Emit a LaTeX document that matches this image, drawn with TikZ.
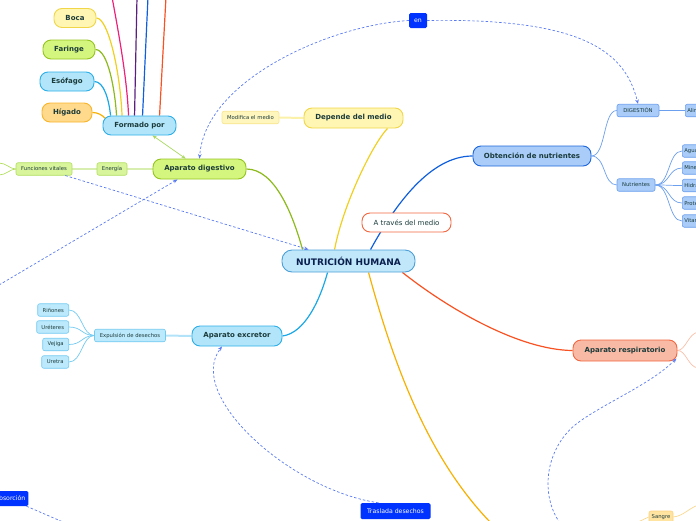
\documentclass[tikz,border=0pt]{standalone}
\usepackage{fontspec}
\setmainfont{DejaVu Sans}
\usetikzlibrary{arrows.meta}
\definecolor{txt}{HTML}{1B3B3B}
\definecolor{navy}{HTML}{0B1F4F}
\definecolor{gfill}{HTML}{D4F57E}
\definecolor{gline}{HTML}{96C41E}
\definecolor{gsfill}{HTML}{D8F59C}
\definecolor{gsline}{HTML}{B2DE5E}
\definecolor{gpale}{HTML}{D8EDB0}
\definecolor{yfill}{HTML}{FFF6B3}
\definecolor{yline}{HTML}{F0D648}
\definecolor{ysfill}{HTML}{FFF6BE}
\definecolor{ysline}{HTML}{F7E58E}
\definecolor{ypale}{HTML}{FBF1A8}
\definecolor{bfill}{HTML}{B3E5FA}
\definecolor{bline}{HTML}{2CAEE8}
\definecolor{bsfill}{HTML}{BDE9FC}
\definecolor{bsline}{HTML}{72CAF2}
\definecolor{bpale}{HTML}{B3E3F8}
\definecolor{dfill}{HTML}{A9CCF8}
\definecolor{dline}{HTML}{1C66DC}
\definecolor{dsline}{HTML}{6C9FEE}
\definecolor{rfill}{HTML}{F8BAA4}
\definecolor{rline}{HTML}{F26640}
\definecolor{rpale}{HTML}{F9BFA8}
\definecolor{ofill}{HTML}{FFD98C}
\definecolor{oline}{HTML}{F8B52C}
\definecolor{osfill}{HTML}{FFE3A0}
\definecolor{opale}{HTML}{F8D890}
\definecolor{cfill}{HTML}{C0E8FA}
\definecolor{cline}{HTML}{4C9FD6}
\definecolor{relblue}{HTML}{0033FF}
\definecolor{dashc}{HTML}{5A7BF2}
\definecolor{cgreen}{HTML}{8BBA1A}
\definecolor{cyellow}{HTML}{F0CF1E}
\definecolor{cblue}{HTML}{0F5FDD}
\definecolor{cred}{HTML}{F85222}
\definecolor{clblue}{HTML}{19A7E6}
\definecolor{corange}{HTML}{F8B000}
\definecolor{cpink}{HTML}{F0207A}
\definecolor{cpurple}{HTML}{5A1F7F}
\definecolor{cgreenl}{HTML}{A8D860}
\pgfdeclarelayer{bg}
\pgfsetlayers{bg,main}
\begin{document}
\begin{tikzpicture}[x=1pt,y=-1pt,
  lvone/.style={rounded corners=8pt, line width=0.9pt, minimum height=19pt, inner xsep=2pt, inner ysep=0pt, font=\bfseries\fontsize{7}{8}\selectfont, text=txt},
  smallbox/.style={rounded corners=2pt, line width=0.6pt, minimum height=12.5pt, inner xsep=2pt, inner ysep=0pt, font=\fontsize{5.3}{6}\selectfont, text=txt},
  relbox/.style={fill=relblue, rounded corners=1.5pt, text=white, font=\fontsize{6.2}{7}\selectfont, minimum height=15pt, inner xsep=3pt, inner ysep=0pt},
  dashrel/.style={draw=dashc, line width=0.7pt, dash pattern=on 2.5pt off 2pt},
  arrowend/.style={-{Stealth[length=4.5pt,width=3.6pt]}},
  mainconn/.style={line width=1.2pt},
  subconn/.style={line width=0.7pt},
  thickconn/.style={line width=2pt}
]
\useasboundingbox (0,0) rectangle (696,520);
\clip (0,0) rectangle (696,520);

% ---------- nodes ----------
\node[lvone, fill=cfill, draw=cline, minimum width=133pt, minimum height=22pt, rounded corners=10pt, font=\bfseries\fontsize{9}{10}\selectfont, text=navy] (root) at (348.5,261) {NUTRICIÓN HUMANA};

\node[lvone, fill=gfill, draw=gline, minimum width=93pt, minimum height=20pt] (dig) at (199.5,169) {Aparato digestivo};
\node[lvone, fill=bfill, draw=bline, minimum width=73pt] (fp) at (139.5,125.5) {Formado por};
\node[lvone, fill=yfill, draw=yline, minimum width=42pt] (boca) at (75,18) {Boca};
\node[lvone, fill=gfill, draw=gline, minimum width=52pt] (far) at (69,49.5) {Faringe};
\node[lvone, fill=bfill, draw=bline, minimum width=54pt] (eso) at (67,81.5) {Esófago};
\node[lvone, fill=ofill, draw=oline, minimum width=50pt] (hig) at (67,112.5) {Hígado};
\node[smallbox, fill=gsfill, draw=gsline, minimum width=30pt] (ene) at (112,169) {Energía};
\node[smallbox, fill=gsfill, draw=gsline, minimum width=56pt] (fv) at (44,169) {Funciones vitales};

\node[smallbox, fill=ysfill, draw=ysline, minimum width=57pt] (mod) at (250.5,117.5) {Modifica el medio};
\node[lvone, fill=yfill, draw=yline, minimum width=99pt, minimum height=20pt] (dep) at (353.5,118) {Depende del medio};

\node[relbox, minimum width=18pt] (en) at (418,20.5) {en};

\node[lvone, fill=dfill, draw=dline, minimum width=118pt, minimum height=20pt] (obt) at (532,156) {Obtención de nutrientes};
\node[smallbox, fill=dfill, draw=dsline, minimum width=42pt] (dige) at (638,110.5) {DIGESTIÓN};
\node[smallbox, fill=dfill, draw=dsline, anchor=west] (ali) at (685,110.5) {Alimentos};
\node[smallbox, fill=dfill, draw=dsline, minimum width=38pt] (nut) at (636,185) {Nutrientes};
\node[smallbox, fill=dfill, draw=dsline, anchor=west] (agua) at (682,151) {Agua};
\node[smallbox, fill=dfill, draw=dsline, anchor=west] (mine) at (682,168) {Minerales};
\node[smallbox, fill=dfill, draw=dsline, anchor=west] (hidr) at (682,185.5) {Hidratos de carbono};
\node[smallbox, fill=dfill, draw=dsline, anchor=west] (prot) at (682,203) {Proteínas};
\node[smallbox, fill=dfill, draw=dsline, anchor=west] (vita) at (682,221) {Vitaminas};

\node[lvone, fill=white, draw=rline, minimum width=89pt, font=\fontsize{7}{8}\selectfont] (atm) at (406.5,222.5) {A través del medio};

\node[lvone, fill=bfill, draw=bline, minimum width=90pt, minimum height=20pt] (exc) at (237,336) {Aparato excretor};
\node[smallbox, fill=bsfill, draw=bsline, minimum width=71pt] (exp) at (130,335.5) {Expulsión de desechos};
\node[smallbox, fill=bsfill, draw=bsline, minimum width=31pt, anchor=east] (rin) at (69,310) {Riñones};
\node[smallbox, fill=bsfill, draw=bsline, minimum width=32pt, anchor=east] (ure) at (69,327) {Uréteres};
\node[smallbox, fill=bsfill, draw=bsline, minimum width=26pt, anchor=east] (vej) at (69,344.5) {Vejiga};
\node[smallbox, fill=bsfill, draw=bsline, minimum width=27pt, anchor=east] (uret) at (69,362) {Uretra};

\node[lvone, fill=rfill, draw=rline, minimum width=104pt, minimum height=21pt] (resp) at (625,350.5) {Aparato respiratorio};

\node[relbox, minimum width=70pt, minimum height=16pt] (tras) at (395.5,511) {Traslada desechos};
\node[relbox, anchor=east] (abs) at (28.5,498.5) {Absorción};
\node[smallbox, fill=osfill, draw=oline!60, minimum width=24pt, minimum height=12pt] (san) at (661,517) {Sangre};

% free ends
\coordinate (pinkEnd) at (112,-3);
\coordinate (purpEnd) at (137,-3);
\coordinate (blueEnd) at (148,-3);
\coordinate (oranEnd) at (166,-3);
\coordinate (downEnd) at (491,523);
\coordinate (fvA) at (-1,163);
\coordinate (fvB) at (-1,175);
\coordinate (respA) at (698,332);
\coordinate (respB) at (698,368);
\coordinate (sanL) at (638,522);
\coordinate (sanR) at (698,505);
\coordinate (leftIn) at (-1,285);
\coordinate (absEnd) at (63,522);
\coordinate (botIn) at (560,523);

% ---------- solid connectors (behind nodes) ----------
\begin{pgfonlayer}{bg}
\draw[mainconn, cgreen] (dig.east) .. controls (275,169) and (293,215) .. ([xshift=21pt]root.north west);
\draw[mainconn, cyellow] ([xshift=53pt]root.north west) .. controls (343,205) and (372,145) .. ([xshift=-16pt]dep.south east);
\draw[mainconn, cblue] ([xshift=89pt]root.north west) .. controls (395,205) and (430,156) .. (obt.west);
\draw[mainconn, cred] ([xshift=-13pt]root.south east) .. controls (450,310) and (520,350) .. (resp.west);
\draw[mainconn, clblue] ([xshift=46pt]root.south west) .. controls (320,300) and (305,333) .. (exc.east);
\draw[mainconn, corange] ([xshift=87pt]root.south west) .. controls (395,370) and (430,460) .. (downEnd);

\draw[mainconn, cpink] ([xshift=26pt]fp.north west) .. controls (127,80) and (120,40) .. (pinkEnd);
\draw[mainconn, cpurple] ([xshift=32pt]fp.north west) -- (purpEnd);
\draw[mainconn, cblue] ([xshift=40pt]fp.north west) -- (blueEnd);
\draw[mainconn, cred] ([xshift=57pt]fp.north west) -- (oranEnd);
\draw[mainconn, cyellow] (boca.east) .. controls (108,18) and (120,70) .. ([xshift=19.5pt]fp.north west);
\draw[mainconn, cgreen] (far.east) .. controls (108,49.5) and (115,90) .. ([xshift=14pt]fp.north west);
\draw[mainconn, clblue] (eso.east) .. controls (104,81.5) and (109,100) .. ([xshift=8pt]fp.north west);
\draw[mainconn, corange] (hig.east) .. controls (98,112.5) and (102,115) .. ([xshift=3pt,yshift=-3pt]fp.north west);

\draw[subconn, cgreenl, {Stealth[length=4pt,width=3.5pt]}-{Stealth[length=4pt,width=3.5pt]}] ([xshift=50pt]fp.south west) -- ([xshift=33pt]dig.north west);

\draw[thickconn, gpale] (dig.west) -- (ene.east);
\draw[thickconn, gpale] (ene.west) -- (fv.east);
\draw[subconn, gsline] (fv.west) .. controls (10,169) and (6,163) .. (fvA);
\draw[subconn, gsline] (fv.west) .. controls (10,169) and (6,175) .. (fvB);

\draw[thickconn, ypale] (dep.west) -- (mod.east);

\draw[subconn, dsline] (obt.east) .. controls (606,156) and (603,110.5) .. (dige.west);
\draw[subconn, dsline] (obt.east) .. controls (606,156) and (603,185) .. (nut.west);
\draw[subconn, dsline] (dige.east) -- (ali.west);
\foreach \n in {agua,mine,hidr,prot,vita}
  \draw[subconn, dsline] (nut.east) .. controls (670,185) and (668,0|-\n.west) .. (\n.west);

\draw[thickconn, bpale] (exc.west) -- (exp.east);
\foreach \n in {rin,ure,vej,uret}
  \draw[subconn, bsline] (exp.west) .. controls (82,335.5) and (82,0|-\n.east) .. (\n.east);

\draw[subconn, rpale] (resp.east) .. controls (686,350) and (688,334) .. (respA);
\draw[subconn, rpale] (resp.east) .. controls (686,350) and (688,367) .. (respB);

\draw[subconn, opale] (san.west) -- (sanL);
\draw[subconn, opale] (san.east) .. controls (683,516) and (688,509) .. (sanR);
\end{pgfonlayer}

% ---------- dashed relations ----------
\draw[dashrel, arrowend] (en.west) .. controls (330,25) and (205,80) .. (dig.north);
\draw[dashrel, arrowend] (en.east) .. controls (580,18) and (625,50) .. (dige.north);
\draw[dashrel, arrowend] ([xshift=-7pt]fv.south east) -- ([xshift=27pt]root.north west);
\draw[dashrel, arrowend] (leftIn) -- ([xshift=-22pt]dig.south);
\draw[dashrel] ([xshift=-2pt]abs.south east) -- (absEnd);
\draw[dashrel, arrowend] ([xshift=-17pt]tras.north) .. controls (290,490) and (185,395) .. ([xshift=-15pt]exc.south);
\draw[dashrel, arrowend] (botIn) .. controls (540,495) and (545,450) .. (575,425) .. controls (600,405) and (650,385) .. ([xshift=-1pt,yshift=3pt]resp.south east);
\end{tikzpicture}
\end{document}
